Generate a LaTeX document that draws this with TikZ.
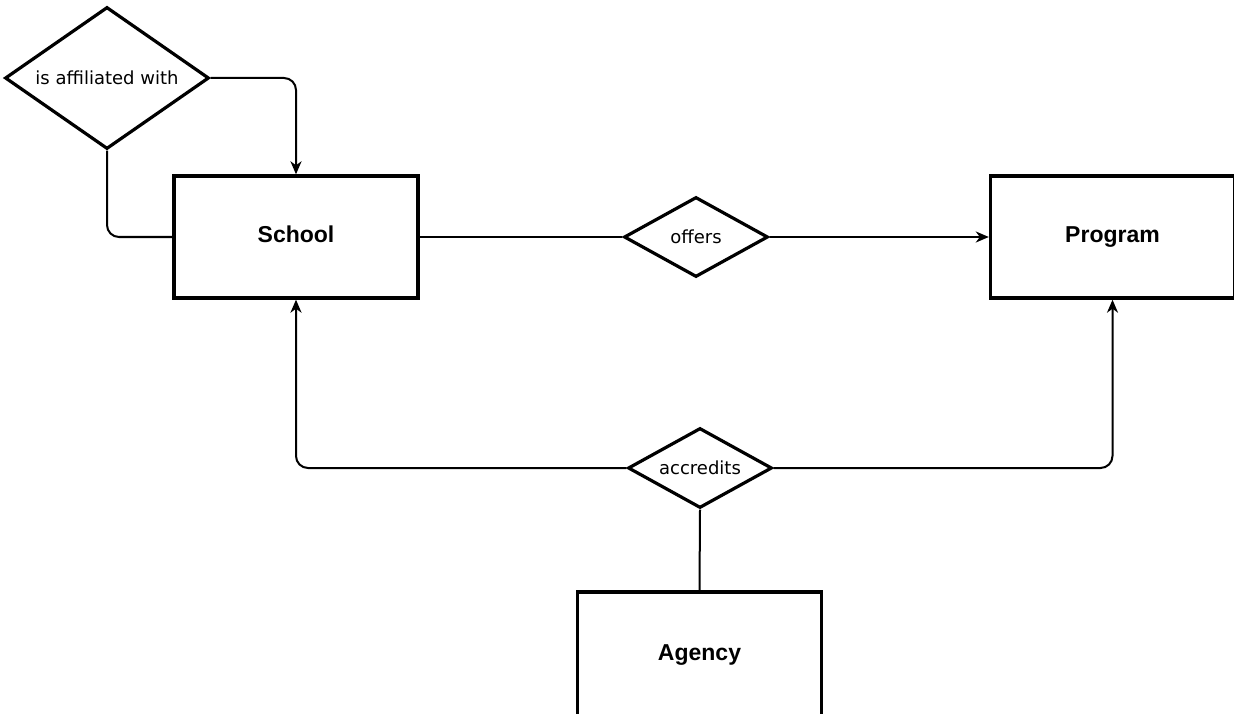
\documentclass[tikz,border=0pt]{standalone}
\usepackage{fontspec}
\setmainfont{Liberation Sans}
\newfontfamily\relfont{DejaVu Sans}
\usetikzlibrary{shapes.geometric,arrows.meta}

\tikzstyle{entity} = [draw, line width=3.4pt, minimum width=244, minimum height=122, inner sep=0pt, text height=17pt, text depth=5pt, font=\fontsize{23}{26}\selectfont\bfseries]
\tikzstyle{relation} = [draw, diamond, line width=3.2pt, inner sep=0pt, font=\relfont\fontsize{18}{21}\selectfont]
\tikzstyle{conn} = [line width=2pt, rounded corners=12pt, -{Stealth[length=13pt,width=11pt,inset=4pt]}]
\tikzstyle{link} = [line width=2pt, rounded corners=12pt]

\begin{document}
\begin{tikzpicture}[x=1pt,y=-1pt]
      \clip (0,0) rectangle (1234,714);
      \node[entity] (school) at (296,237) {School};
      \node[entity] (program) at (1112.5,237) {Program};
      \node[entity, minimum height=124] (agency) at (699.5,654) {Agency};

      \node[relation, minimum width=204, minimum height=142, aspect=1.44] (affil) at (107,78) {is affiliated with};
      \node[relation, minimum width=144, minimum height=80, aspect=1.8] (offers) at (696,237) {offers};
      \node[relation, minimum width=144, minimum height=80, aspect=1.8] (accred) at (700,468) {accredits};

      \draw[conn] (affil.east) -| (school.north);
      \draw[link] (affil.south) |- (school.west);
      \draw[link] (school.east) -- (offers.west);
      \draw[conn] (offers.east) -- (program.west);
      \draw[conn] (accred.west) -| (school.south);
      \draw[conn] (accred.east) -| (program.south);
      \draw[link] (accred.south) -- (agency.north);
    \end{tikzpicture}
\end{document}
